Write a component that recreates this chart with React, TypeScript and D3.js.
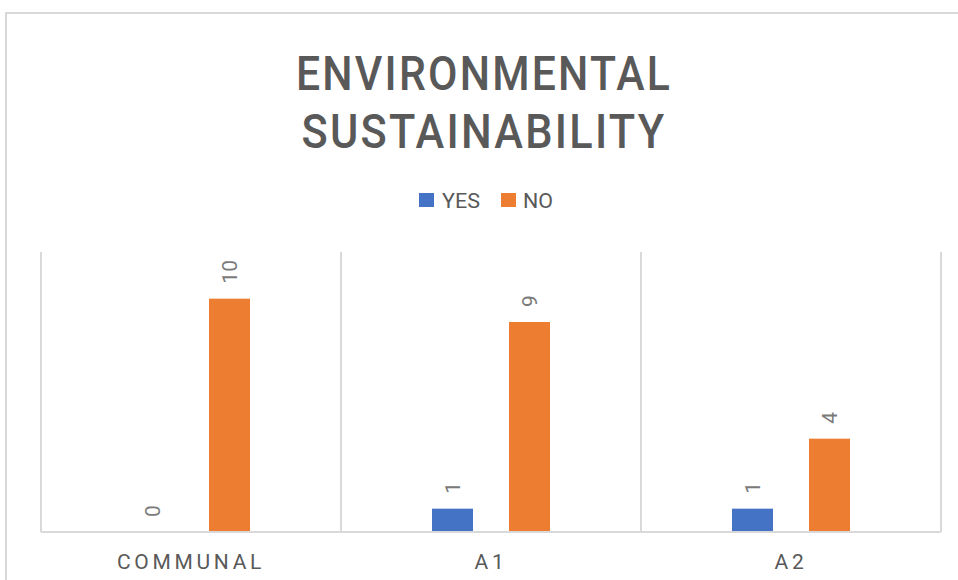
import React from "react";
import * as d3 from "d3";

// Chart data
const categories = ["COMMUNAL", "A1", "A2"];
const seriesNames = ["YES", "NO"];
const yesValues = [0, 1, 1];
const noValues = [10, 9, 4];
const seriesColors = ["#4472C4", "#ED7D31"];
const titleLines = ["ENVIRONMENTAL", "SUSTAINABILITY"];

const W = 958;
const H = 580;
const plot = { left: 41, right: 941, top: 252, bottom: 532 };
const FONT = "Roboto, 'Noto Sans', Arial, sans-serif";
const GRID = "#d9d9d9";
const TEXT = "#595959";

// title line widths (fitted with textLength)
const titleWidths = [376, 365];

export default function App() {
  const x0 = d3.scaleBand<string>().domain(categories).range([plot.left, plot.right]).padding(0);
  const x1 = d3
    .scaleBand<string>()
    .domain(seriesNames)
    .range([0, x0.bandwidth()])
    .paddingInner(36 / 77)
    .paddingOuter(1.1818);
  const y = d3.scaleLinear().domain([0, 12]).range([plot.bottom, plot.top]);

  const series = [yesValues, noValues];
  const bounds = [...categories.map((c) => x0(c)!), plot.right];

  return (
    <div style={{ position: "fixed", left: 0, top: 0, width: W, height: H, background: "#fff" }}>
      <svg width={W} height={H} style={{ display: "block" }} fontFamily={FONT}>
        <rect x={0} y={0} width={W} height={H} fill="#fff" />
        {/* chart frame */}
        <path d={`M6,${H + 2} V13 H${W + 2}`} fill="none" stroke={GRID} strokeWidth={2} />

        {/* title */}
        {titleLines.map((t, i) => (
          <text
            key={t}
            x={484}
            y={90 + i * 57.5}
            textAnchor="middle"
            fontSize={48}
            fontWeight={500}
            letterSpacing={2.5}
            textLength={titleWidths[i]}
            lengthAdjust="spacingAndGlyphs"
            fill={TEXT}
          >
            {t}
          </text>
        ))}

        {/* legend */}
        <g>
          <rect x={419} y={193} width={15} height={14} fill={seriesColors[0]} />
          <text x={442} y={207.5} fontSize={20} textLength={38} lengthAdjust="spacingAndGlyphs" fill={TEXT}>
            {seriesNames[0]}
          </text>
          <rect x={501} y={193} width={15} height={14} fill={seriesColors[1]} />
          <text x={523} y={207.5} fontSize={20} textLength={30} lengthAdjust="spacingAndGlyphs" fill={TEXT}>
            {seriesNames[1]}
          </text>
        </g>

        {/* category dividers */}
        {bounds.map((bx, i) => (
          <line key={i} x1={bx} x2={bx} y1={plot.top} y2={plot.bottom} stroke={GRID} strokeWidth={2} />
        ))}

        {/* bars and value labels */}
        {categories.map((c, ci) =>
          seriesNames.map((s, si) => {
            const v = series[si][ci];
            const bx = x0(c)! + x1(s)!;
            const bw = x1.bandwidth();
            const top = y(v);
            const cx = bx + bw / 2;
            const ly = top - 15;
            return (
              <g key={c + s}>
                {v > 0 && (
                  <rect x={bx} y={top} width={bw} height={plot.bottom - top} fill={seriesColors[si]} />
                )}
                <text
                  transform={`translate(${cx},${ly}) rotate(-90)`}
                  dy="0.35em"
                  fontSize={21}
                  fill="#7a7a7a"
                  textAnchor="start"
                >
                  {v}
                </text>
              </g>
            );
          })
        )}

        {/* baseline */}
        <line x1={plot.left} x2={plot.right} y1={plot.bottom} y2={plot.bottom} stroke={GRID} strokeWidth={2} />

        {/* category labels */}
        {categories.map((c) => (
          <text
            key={c}
            x={x0(c)! + x0.bandwidth() / 2}
            y={569}
            textAnchor="middle"
            fontSize={21}
            letterSpacing={3.7}
            fill={TEXT}
          >
            {c}
          </text>
        ))}
      </svg>
    </div>
  );
}
